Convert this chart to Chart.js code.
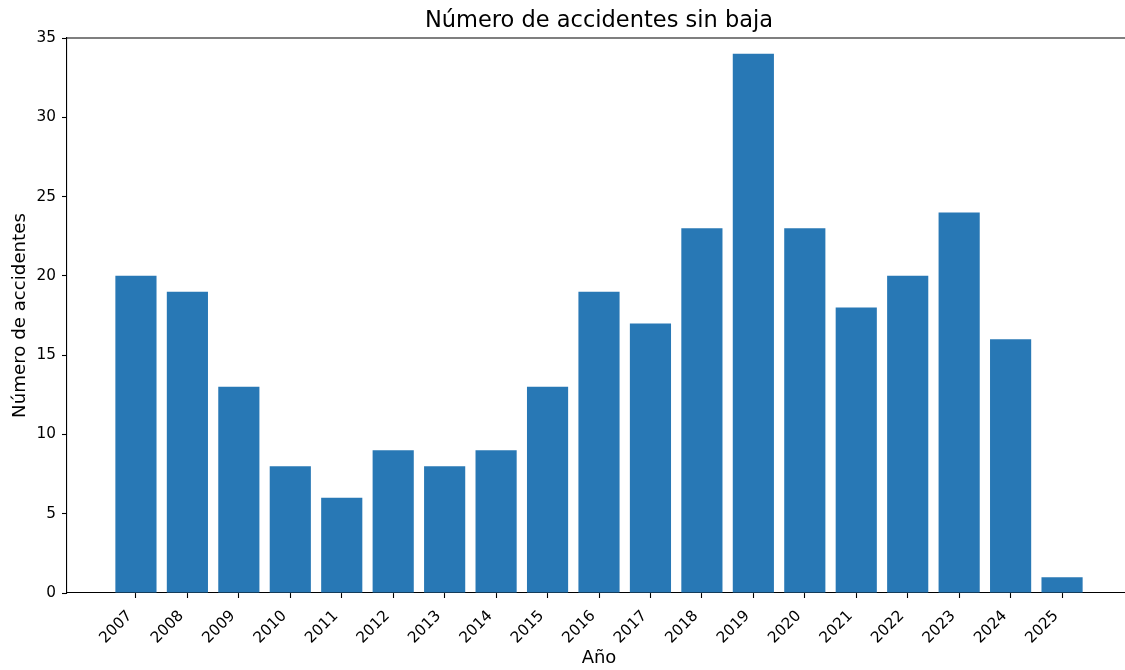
<!DOCTYPE html>
<html>
<head>
<meta charset="utf-8">
<script src="https://cdn.jsdelivr.net/npm/chart.js@4.4.1/dist/chart.umd.min.js"></script>
<style>
html,body{margin:0;padding:0;background:#fff;overflow:hidden;width:1125px;height:670px;}
#wrap{position:absolute;left:0;top:0;width:1131px;height:670px;}
</style>
</head>
<body>
<div id="wrap"><canvas id="c" width="1131" height="670"></canvas></div>
<script>
const years = ['2007','2008','2009','2010','2011','2012','2013','2014','2015','2016','2017','2018','2019','2020','2021','2022','2023','2024','2025'];
const accidents = [20,19,13,8,6,9,8,9,13,19,17,23,34,23,18,20,24,16,1];
const yTicks = [0,5,10,15,20,25,30,35];

const FONT = 'DejaVu Sans';
const topBorder = {
  id:'topBorder',
  afterDraw(chart){
    const a = chart.chartArea, ctx = chart.ctx;
    ctx.save();
    ctx.strokeStyle = '#000';
    ctx.lineWidth = 1.1;
    ctx.beginPath();
    ctx.moveTo(a.left, a.top);
    ctx.lineTo(a.right, a.top);
    ctx.lineTo(a.right, a.bottom);
    ctx.stroke();
    ctx.restore();
  }
};

new Chart(document.getElementById('c'), {
  type:'bar',
  data:{
    datasets:[{
      data: accidents.map((v,i)=>({x:i,y:v})),
      backgroundColor:'#2878b5',
      borderWidth:0,
      barPercentage:0.8,
      categoryPercentage:1.0
    }]
  },
  options:{
    responsive:false,
    animation:false,
    devicePixelRatio:1,
    layout:{padding:{left:0,right:0,top:0,bottom:0}},
    plugins:{
      legend:{display:false},
      tooltip:{enabled:false},
      title:{
        display:true,
        fullSize:false,
        text:'Número de accidentes sin baja',
        color:'#000',
        font:{family:FONT,size:22.5,weight:'normal',lineHeight:1.2},
        padding:{top:8,bottom:3}
      }
    },
    scales:{
      x:{
        type:'linear',
        offset:false,
        min:-1.34,
        max:19.34,
        afterBuildTicks(scale){ scale.ticks = years.map((y,i)=>({value:i})); },
        afterFit(scale){ scale.height = 77; scale.paddingLeft = 0; scale.paddingRight = 0; },
        ticks:{
          callback:(v)=>years[v],
          color:'#000',
          font:{family:FONT,size:15.3},
          minRotation:45,
          maxRotation:45,
          padding:9,
          labelOffset:-6,
          autoSkip:false
        },
        grid:{display:true,offset:false,drawOnChartArea:false,tickLength:5,tickColor:'#000',tickWidth:1.1},
        border:{display:true,color:'#000',width:1.1},
        title:{display:true,text:'Año',color:'#000',font:{family:FONT,size:18},padding:{top:0,bottom:1}}
      },
      y:{
        type:'linear',
        min:0,
        max:35,
        afterBuildTicks(scale){ scale.ticks = yTicks.map(v=>({value:v})); },
        afterFit(scale){ scale.width = 67; },
        ticks:{color:'#000',font:{family:FONT,size:15.3},padding:6},
        grid:{display:true,drawOnChartArea:false,tickLength:5,tickColor:'#000',tickWidth:1.1},
        border:{display:true,color:'#000',width:1.1},
        title:{display:true,text:'Número de accidentes',color:'#000',font:{family:FONT,size:18.2},padding:{top:9,bottom:0}}
      }
    }
  },
  plugins:[topBorder]
});
</script>
</body>
</html>
